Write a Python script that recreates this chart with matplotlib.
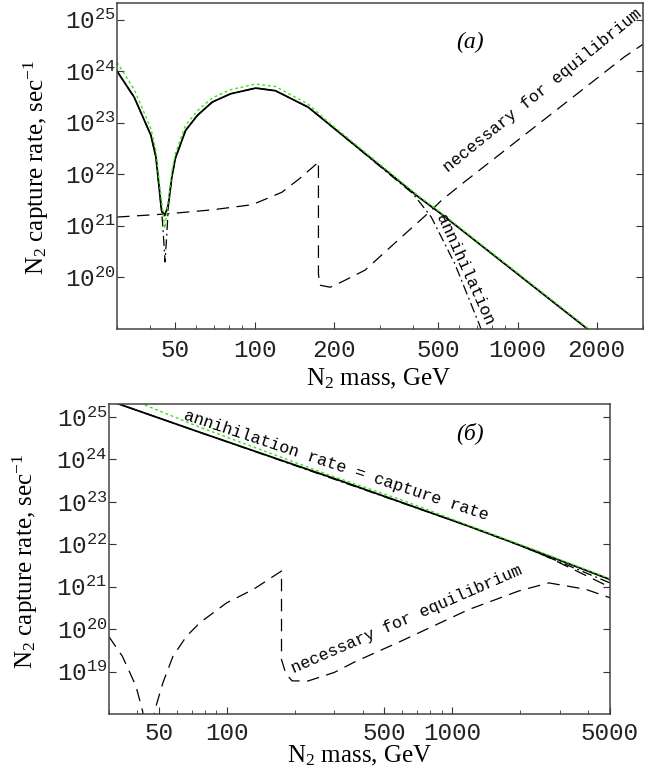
import matplotlib
matplotlib.use("Agg")
import matplotlib.pyplot as plt
import matplotlib.ticker as mticker
import numpy as np

plt.rcParams['mathtext.default'] = 'regular'

# ---------- panel (a): values as log10 of rate, sec^-1 ----------
cap_a_mass = [30, 34.9, 40.4, 42.2, 44.3, 45.6, 47.0, 48.5, 50, 54.7, 60.6, 69.1, 81.1,
              101, 120, 160, 191, 420, 513, 1846, 2500]
cap_a_log = [24.0, 23.49, 22.75, 22.33, 21.3, 21.2, 21.4, 21.95, 22.31, 22.85, 23.14, 23.40, 23.56,
             23.67, 23.62, 23.30, 22.98, 21.56, 21.23, 19.0, 18.47]

alt_a_mass = [30, 34.9, 40.4, 42.2, 44.0, 45.6, 47.3, 48.5, 50, 54.7, 60.6, 69.1, 81.1,
              101, 120, 160, 191, 420, 513, 1846, 2500]
alt_a_log = [24.17, 23.64, 22.88, 22.45, 21.6, 20.95, 21.6, 22.05, 22.40, 22.95, 23.23, 23.48, 23.64,
             23.75, 23.70, 23.36, 23.01, 21.58, 21.25, 19.02, 18.49]

ann_a_mass = [30, 34.9, 40.4, 42.2, 44.3, 44.8, 45.7, 46.6, 47.0, 48.5, 50, 54.7, 60.6, 69.1, 81.1,
              101, 120, 160, 191, 401, 470, 577, 718, 760]
ann_a_log = [24.0, 23.49, 22.75, 22.33, 21.3, 21.0, 20.3, 21.0, 21.4, 21.95, 22.31, 22.85, 23.14, 23.40, 23.56,
             23.67, 23.62, 23.30, 22.98, 21.62, 21.17, 20.27, 19.07, 18.7]

eq_a_mass = [30, 46, 69, 98, 127, 147, 172, 175, 175, 177, 194, 214, 263, 351, 470, 513, 610, 2540, 3000]
eq_a_log = [21.17, 21.23, 21.31, 21.41, 21.65, 21.90, 22.20, 22.25, 20.07, 19.85, 19.81, 19.91, 20.14,
            20.72, 21.30, 21.49, 21.80, 24.27, 24.52]

# ---------- panel (б) ----------
cap_b_mass = [30, 76, 289, 1178, 2340, 5000]
cap_b_log = [25.39, 24.64, 23.58, 22.43, 21.84, 21.17]

alt_b_mass = [30, 41.7, 76, 150, 289, 600, 1178, 2340, 5000]
alt_b_log = [25.62, 25.32, 24.76, 24.18, 23.62, 23.04, 22.45, 21.86, 21.19]

ann_b_mass = [30, 1178, 2000, 5000]
ann_b_log = [25.39, 22.43, 21.97, 21.09]

eq2_b_mass = [2000, 2600, 5000]
eq2_b_log = [21.97, 21.72, 20.99]

eq_b_mass = [30, 34.5, 39.6, 42.4, 45.6, 47.9, 52.2, 57.8, 66.3, 76, 100, 131.5, 175, 175,
             183, 195, 230, 300, 367, 594, 1180, 1970, 2680, 3900, 5000]
eq_b_log = [19.83, 19.36, 18.66, 18.07, 17.0, 18.07, 18.74, 19.36, 19.83, 20.15, 20.62, 20.94, 21.37, 19.28,
            18.95, 18.78, 18.78, 18.98, 19.22, 19.72, 20.46, 20.90, 21.09, 20.94, 20.74]

xticks_a = [50, 100, 200, 500, 1000, 2000]
xticks_b = [50, 100, 500, 1000, 5000]
yticks_a = [20, 21, 22, 23, 24, 25]
yticks_b = [19, 20, 21, 22, 23, 24, 25]

green = '#3ee01c'
tick_font = 'Liberation Mono'
label_font = 'Liberation Serif'
note_font = 'Liberation Mono'

fig = plt.figure(figsize=(6.45, 7.83), dpi=100)
ax1 = fig.add_axes([117 / 645, (783 - 329) / 783, 526 / 645, 326 / 783])
ax2 = fig.add_axes([108.7 / 645, (783 - 714) / 783, 501.3 / 645, 309.7 / 783])


def pw(v):
    return 10.0 ** np.array(v)


# panel (a)
ax1.plot(eq_a_mass, pw(eq_a_log), color='black', lw=0.9, dashes=(10, 6))
ax1.plot(ann_a_mass, pw(ann_a_log), color='black', lw=0.9, dashes=(8, 3, 1.5, 3))
ax1.plot(cap_a_mass, pw(cap_a_log), color='black', lw=1.3)
ax1.plot(alt_a_mass, pw(alt_a_log), color=green, lw=1.0, dashes=(2, 2))

# panel (б)
ax2.plot(eq_b_mass, pw(eq_b_log), color='black', lw=0.9, dashes=(10, 6))
ax2.plot(eq2_b_mass, pw(eq2_b_log), color='black', lw=0.9, dashes=(10, 6))
ax2.plot(ann_b_mass, pw(ann_b_log), color='black', lw=0.9, dashes=(8, 3, 1.5, 3))
ax2.plot(cap_b_mass, pw(cap_b_log), color='black', lw=1.3)
ax2.plot(alt_b_mass, pw(alt_b_log), color=green, lw=1.0, dashes=(2, 2))

for ax, xt, yt, xlim, ylim, xpad in [
        (ax1, xticks_a, yticks_a, (30, 3000), (1e19, 10 ** 25.32), 7),
        (ax2, xticks_b, yticks_b, (30, 5000), (1e18, 10 ** 25.30), 5.5)]:
    ax.set_xscale('log')
    ax.set_yscale('log')
    ax.set_xlim(*xlim)
    ax.set_ylim(*ylim)
    ax.xaxis.set_major_locator(mticker.FixedLocator(xt))
    ax.xaxis.set_major_formatter(mticker.FixedFormatter([str(v) for v in xt]))
    ax.xaxis.set_minor_locator(mticker.LogLocator(base=10, subs=np.arange(2, 10)))
    ax.xaxis.set_minor_formatter(mticker.NullFormatter())
    ax.yaxis.set_major_locator(mticker.FixedLocator([10.0 ** e for e in yt]))
    ax.yaxis.set_major_formatter(mticker.FixedFormatter([r'$10^{%d}$' % e for e in yt]))
    ax.yaxis.set_minor_locator(mticker.NullLocator())
    ax.tick_params(axis='both', which='both', direction='in', color='#333333')
    ax.tick_params(axis='x', which='major', length=5, width=0.8, pad=xpad, labelsize=17.5)
    ax.tick_params(axis='x', which='minor', length=3, width=0.6)
    ax.tick_params(axis='y', which='major', length=5, width=0.8, pad=1.0, labelsize=17.5,
                   right=True)
    for lab in ax.get_xticklabels() + ax.get_yticklabels():
        lab.set_fontfamily(tick_font)
        lab.set_color('#222222')
    for sp in ax.spines.values():
        sp.set_color('#444444')
        sp.set_linewidth(1.1)
    ax.set_xlabel(r'N$_2$ mass, GeV', fontfamily=label_font, fontsize=18)
    ax.set_ylabel(r'N$_2$ capture rate, sec$^{-1}$', fontfamily=label_font, fontsize=18)

ax1.xaxis.set_label_coords(0.498, -0.117)
ax1.yaxis.set_label_coords(-0.125, 0.495)
ax2.xaxis.set_label_coords(0.501, -0.095)
ax2.yaxis.set_label_coords(-0.137, 0.494)

# annotations
ax1.text(657, 10 ** 24.56, '(a)', fontfamily=label_font, fontstyle='italic', fontsize=17,
         ha='center', va='center')
ax1.text(545, 10 ** 22.03, 'necessary for equilibrium', fontfamily=note_font, fontsize=12,
         rotation=39, rotation_mode='anchor', ha='left', va='baseline')
ax1.text(490, 10 ** 21.18, 'annihilation', fontfamily=note_font, fontsize=12,
         rotation=-65.6, rotation_mode='anchor', ha='left', va='baseline')

ax2.text(1200, 10 ** 24.63, '(б)', fontfamily=label_font, fontstyle='italic', fontsize=17,
         ha='center', va='center')
ax2.text(63.8, 10 ** 24.95, 'annihilation rate = capture rate', fontfamily=note_font, fontsize=12,
         rotation=-18.4, rotation_mode='anchor', ha='left', va='baseline')
ax2.text(198, 10 ** 18.95, 'necessary for equilibrium', fontfamily=note_font, fontsize=12,
         rotation=23.5, rotation_mode='anchor', ha='left', va='baseline')

fig.savefig('out.png', dpi=100)
